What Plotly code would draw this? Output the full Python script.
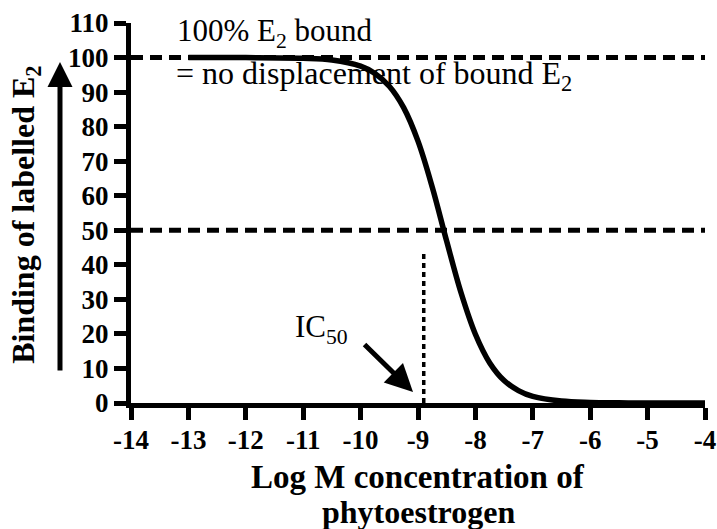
import plotly.graph_objects as go

# ---- data ----
log_conc = [-13.0, -12.0, -11.0, -10.5, -10.0, -9.75, -9.5, -9.25, -9.0, -8.75,
            -8.5, -8.25, -8.0, -7.75, -7.5, -7.25, -7.0, -6.5, -6.0, -5.5, -5.0, -4.0]
binding = [100.0, 99.98, 99.8, 99.3, 97.5, 95.4, 91.7, 85.5, 75.8, 62.4,
           46.8, 31.9, 19.9, 11.6, 6.5, 3.6, 1.9, 0.55, 0.16, 0.05, 0.01, 0.0]

ref_x = [-14, -4]
ref_100 = [100, 100]
ref_50 = [50, 50]
ic50_x = [-8.9, -8.9]
ic50_y = [0, 44]

x_ticks = list(range(-14, -3))
x_tick_text = [str(v).replace("\u2212", "-") for v in x_ticks]
y_ticks = list(range(0, 111, 10))
y_tick_text = [str(v) for v in y_ticks]

SERIF = "Liberation Serif, Times New Roman, serif"

fig = go.Figure()
fig.add_trace(go.Scatter(x=ref_x, y=ref_100, mode="lines",
                         line=dict(color="black", width=5, dash="12px,7px"),
                         hoverinfo="skip"))
fig.add_trace(go.Scatter(x=ref_x, y=ref_50, mode="lines",
                         line=dict(color="black", width=5, dash="12px,7px"),
                         hoverinfo="skip"))
fig.add_trace(go.Scatter(x=ic50_x, y=ic50_y, mode="lines",
                         line=dict(color="black", width=3.5, dash="5px,4px"),
                         hoverinfo="skip"))
fig.add_trace(go.Scatter(x=log_conc, y=binding, mode="lines",
                         line=dict(color="black", width=5.5, shape="spline"),
                         hoverinfo="skip"))

axis_common = dict(showline=True, linewidth=5, linecolor="black",
                   ticks="outside", ticklen=12, tickwidth=5, tickcolor="black",
                   showgrid=False, zeroline=False, automargin=False,
                   ticklabeloverflow="allow",
                   tickfont=dict(family=SERIF, size=27, color="black", weight="bold"))

fig.update_xaxes(range=[-14, -4], tickvals=x_ticks, ticktext=x_tick_text,
                 ticklabelstandoff=-3, **axis_common)
fig.update_yaxes(range=[0, 110], tickvals=y_ticks, ticktext=y_tick_text, **axis_common)

ann_font = dict(family=SERIF, size=31, color="black")
ann_font2 = dict(family=SERIF, size=32, color="black")
bold_font = dict(family=SERIF, size=32, color="black", weight="bold")
bold_font_x = dict(family=SERIF, size=33, color="black", weight="bold")

annotations = [
    dict(text="100% E<sub>2</sub> bound", x=-13.23, y=107.0, xref="x", yref="y",
         xanchor="left", yanchor="middle", showarrow=False, font=ann_font),
    dict(text="= no displacement of bound E<sub>2</sub>", x=-13.25, y=94.9, xref="x", yref="y",
         xanchor="left", yanchor="middle", showarrow=False, font=ann_font2),
    dict(text="IC<sub>50</sub>", x=-11.18, y=21.4, xref="x", yref="y",
         xanchor="left", yanchor="middle", showarrow=False, font=ann_font),
    # IC50 arrow
    dict(text="", x=-9.087, y=3.18, xref="x", yref="y", showarrow=True,
         ax=-50, ay=-49, arrowhead=2, arrowsize=1.1, arrowwidth=5,
         arrowcolor="black", standoff=0),
    # y-axis title and arrow
    dict(text="Binding of labelled E<sub>2</sub>", x=-0.183, y=0.495, xref="paper", yref="paper",
         textangle=-90, xanchor="center", yanchor="middle", showarrow=False, font=bold_font),
    dict(text="", x=-0.1237, y=0.8974, xref="paper", yref="paper", showarrow=True,
         ax=0, ay=310, arrowhead=2, arrowsize=1.0, arrowwidth=5,
         arrowcolor="black", standoff=0),
    # x-axis title (two lines)
    dict(text="Log M concentration of", x=0.5, y=(403 - 476.5) / 380, xref="paper", yref="paper",
         xanchor="center", yanchor="middle", showarrow=False, font=bold_font_x),
    dict(text="phytoestrogen", x=0.5, y=(403 - 512) / 380, xref="paper", yref="paper",
         xanchor="center", yanchor="middle", showarrow=False, font=bold_font),
]

fig.update_layout(
    width=717, height=529,
    margin=dict(l=131, r=12, t=23, b=126),
    paper_bgcolor="white", plot_bgcolor="white",
    showlegend=False,
    annotations=annotations,
)

fig.write_html("out.html", include_plotlyjs=True, config={"displayModeBar": False})
